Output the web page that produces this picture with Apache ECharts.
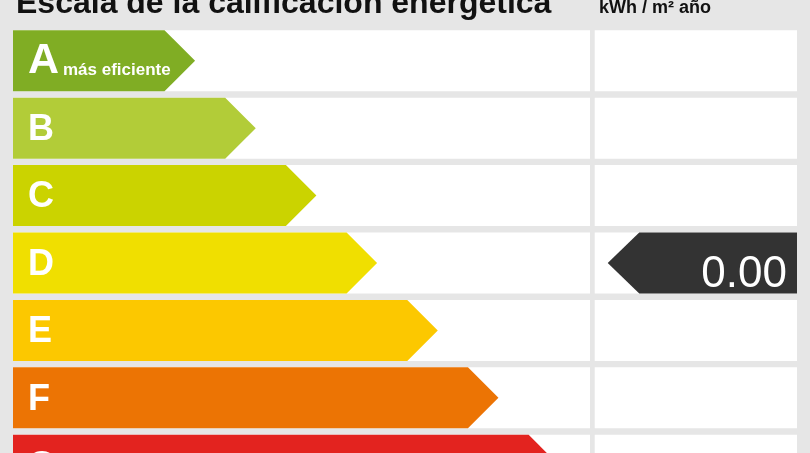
<!DOCTYPE html>
<html>
<head>
<meta charset="utf-8">
<script src="https://cdn.jsdelivr.net/npm/echarts@6/dist/echarts.min.js"></script>
<style>
  html, body { margin: 0; padding: 0; background: #e6e6e6; }
  #main { width: 810px; height: 453px; }
</style>
</head>
<body>
<div id="main"></div>
<script>
// escala energetica: letras, largo de cada flecha y colores
var grades = ['A', 'B', 'C', 'D', 'E', 'F', 'G'];
var arrowLength = [3, 4, 5, 6, 7, 8, 9];
var gradeColors = ['#80ad24', '#b2cc38', '#cbd300', '#f0df00', '#fcc800', '#ec7404', '#e3231f'];
var gradeNotes = ['más eficiente', '', '', '', '', '', ''];

// calificacion del inmueble
var ratingGrade = 'D';
var ratingValue = 0.00;

var FONT = "'Liberation Sans', Arial, sans-serif";

var chart = echarts.init(document.getElementById('main'));

function renderRow(params, api) {
    var cs = params.coordSys;
    var idx = api.value(1);
    var yc = api.coord([0, idx])[1];
    var band = api.size([0, 1])[1];
    var h = (band - 6.4) / 2;
    var tip = api.coord([api.value(0), idx])[0];
    var x0 = cs.x;
    var leftEnd = cs.x + cs.width * 0.736;
    var rightStart = cs.x + cs.width * 0.742;
    var rightEnd = cs.x + cs.width;
    var children = [
        { type: 'rect', shape: { x: x0, y: yc - h, width: leftEnd - x0, height: 2 * h }, style: { fill: '#ffffff' } },
        { type: 'rect', shape: { x: rightStart, y: yc - h, width: rightEnd - rightStart, height: 2 * h }, style: { fill: '#ffffff' } },
        {
            type: 'polygon',
            shape: { points: [[x0, yc - h], [tip - h, yc - h], [tip, yc], [tip - h, yc + h], [x0, yc + h]] },
            style: { fill: gradeColors[idx] }
        },
        {
            type: 'text',
            style: {
                text: grades[idx], x: 28, y: yc + (idx === 0 ? 0 : 2),
                fill: '#ffffff', font: 'bold ' + (idx === 0 ? 43 : 36) + 'px ' + FONT,
                align: 'left', verticalAlign: 'middle'
            }
        }
    ];
    if (gradeNotes[idx]) {
        children.push({
            type: 'text',
            style: {
                text: gradeNotes[idx], x: 63, y: yc + 9.5,
                fill: '#ffffff', font: 'bold 17px ' + FONT,
                align: 'left', verticalAlign: 'middle'
            }
        });
    }
    return { type: 'group', children: children };
}

function renderMarker(params, api) {
    var cs = params.coordSys;
    var idx = api.value(1);
    var yc = api.coord([0, idx])[1];
    var band = api.size([0, 1])[1];
    var h = (band - 6.4) / 2;
    var rightStart = cs.x + cs.width * 0.742;
    var rightEnd = cs.x + cs.width;
    var tipX = rightStart + 13;
    return {
        type: 'group',
        children: [
            {
                type: 'polygon',
                shape: { points: [[tipX, yc], [tipX + h + 1, yc - h], [rightEnd, yc - h], [rightEnd, yc + h], [tipX + h + 1, yc + h]] },
                style: { fill: '#333333' }
            },
            {
                type: 'text',
                style: {
                    text: api.value(0).toFixed(2), x: rightEnd - 10, y: yc + 12,
                    fill: '#ffffff', font: '44px ' + FONT,
                    align: 'right', verticalAlign: 'middle'
                }
            }
        ]
    };
}

var option = {
    backgroundColor: '#e6e6e6',
    animation: false,
    title: [
        {
            text: 'Escala de la calificación energética',
            left: 11, top: -17,
            textStyle: { fontFamily: FONT, fontSize: 32, fontWeight: 'bold', color: '#111111' }
        },
        {
            text: 'kWh / m² año',
            left: 594, top: -6,
            textStyle: { fontFamily: FONT, fontSize: 18, fontWeight: 'bold', color: '#111111' }
        }
    ],
    grid: { left: 13, top: 27, width: 784, height: 472, outerBoundsMode: 'none' },
    xAxis: { type: 'value', min: 0, max: 12.92, show: false },
    yAxis: { type: 'category', data: grades, inverse: true, show: false },
    series: [
        {
            type: 'custom',
            renderItem: renderRow,
            encode: { x: 0, y: 1 },
            data: grades.map(function (g, i) { return [arrowLength[i], i]; }),
            clip: false
        },
        {
            type: 'custom',
            renderItem: renderMarker,
            encode: { x: 0, y: 1 },
            data: [[ratingValue, grades.indexOf(ratingGrade)]],
            clip: false
        }
    ]
};

chart.setOption(option);
</script>
</body>
</html>
